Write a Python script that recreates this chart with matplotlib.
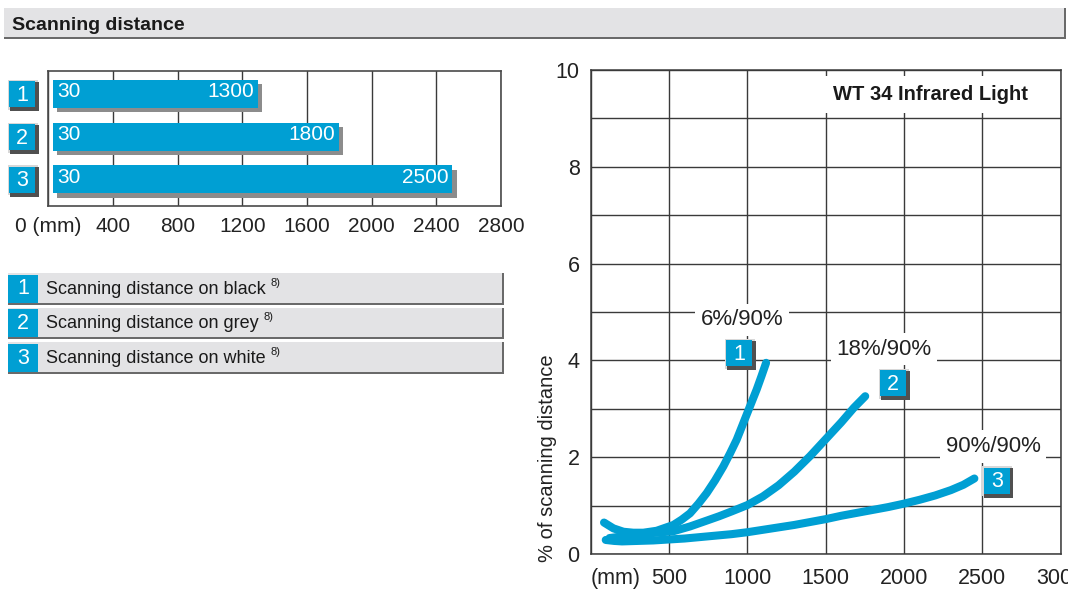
import matplotlib
matplotlib.use("Agg")
import matplotlib.pyplot as plt
from matplotlib.patches import Rectangle
import matplotlib.patheffects as pe

plt.rcParams['font.family'] = ['Liberation Sans', 'DejaVu Sans']

# ---------------- data ----------------
title = "Scanning distance"
bar_ids = ["1", "2", "3"]
bar_start = [30, 30, 30]
bar_end = [1300, 1800, 2500]
bar_ticks = [0, 400, 800, 1200, 1600, 2000, 2400, 2800]
bar_ticklabels = ["0 (mm)", "400", "800", "1200", "1600", "2000", "2400", "2800"]

legend_labels = ["Scanning distance on black",
                 "Scanning distance on grey",
                 "Scanning distance on white"]
footnote = "8)"

chart_title = "WT 34 Infrared Light"
y_label = "% of scanning distance"
x_ticks = [0, 500, 1000, 1500, 2000, 2500, 3000]
x_ticklabels = ["(mm)", "500", "1000", "1500", "2000", "2500", "3000"]
y_ticks = [0, 2, 4, 6, 8, 10]

curve_labels = ["6%/90%", "18%/90%", "90%/90%"]
c1_x = [85, 145, 209, 272, 336, 421, 528, 581, 634, 688, 741, 794, 847, 890, 932, 964,
        996, 1028, 1060, 1090, 1120]
c1_y = [0.65, 0.53, 0.46, 0.44, 0.44, 0.48, 0.60, 0.71, 0.84, 1.04, 1.26, 1.52, 1.81, 2.08,
        2.36, 2.62, 2.88, 3.14, 3.40, 3.67, 3.95]
c2_x = [120, 220, 320, 420, 528, 635, 741, 820, 900, 1000, 1100, 1200, 1300, 1400, 1500,
        1600, 1680, 1753]
c2_y = [0.33, 0.37, 0.41, 0.44, 0.47, 0.57, 0.69, 0.78, 0.88, 1.01, 1.19, 1.42, 1.70, 2.02,
        2.37, 2.72, 3.02, 3.26]
c3_x = [96, 150, 200, 300, 400, 500, 600, 700, 800, 900, 1000, 1100, 1200, 1300, 1400, 1500,
        1600, 1700, 1800, 1900, 2000, 2100, 2200, 2300, 2380, 2450]
c3_y = [0.29, 0.27, 0.26, 0.27, 0.28, 0.30, 0.32, 0.35, 0.38, 0.41, 0.45, 0.50, 0.55, 0.60,
        0.66, 0.72, 0.79, 0.85, 0.91, 0.97, 1.04, 1.12, 1.21, 1.32, 1.43, 1.56]

# ---------------- style ----------------
W, H = 1068, 595
BLUE = "#009fd3"
GRID = "#3a3a3a"
TXT = "#222222"
PANEL = "#e3e3e5"
SHADOW = "#6a6a6a"

fig = plt.figure(figsize=(W / 100, H / 100), dpi=100)
fig.patch.set_facecolor("white")


def fx(x):
    return x / W


def fy(y):
    return 1 - y / H


# overlay for decorations (pixel coords, y downwards)
ov = fig.add_axes([0, 0, 1, 1], zorder=10)
ov.set_xlim(0, W)
ov.set_ylim(H, 0)
ov.axis("off")


def badge(x0, y0, text, size=30):
    ov.add_patch(Rectangle((x0, y0), size, size, fc="#d8d8d8", ec="none"))
    ov.add_patch(Rectangle((x0 + 2, y0 + 2), size - 1, size - 0.5, fc="#505050", ec="none"))
    ov.add_patch(Rectangle((x0 + 1.5, y0 + 1.5), size - 4, size - 4, fc=BLUE, ec="none"))
    ov.text(x0 + 1.5 + (size - 4) / 2, y0 + 1.5 + (size - 4) / 2 + 1, text, color="white",
            fontsize=15.5, ha="center", va="center")


# header bar
ov.add_patch(Rectangle((4, 8.3), 1062, 31, fc=SHADOW, ec="none"))
ov.add_patch(Rectangle((4, 8.3), 1060, 28.5, fc=PANEL, ec="none"))
ov.text(11.5, 30, title, fontsize=14, fontweight="bold", color="#1a1a1a", va="baseline", ha="left")

# ---------------- left bar chart ----------------
axL = fig.add_axes([fx(48.2), fy(206), fx(501) - fx(48.2), fy(70.6) - fy(206)])
ypos = list(range(len(bar_ids)))
axL.barh(ypos, [e - s for s, e in zip(bar_start, bar_end)], left=bar_start, height=0.655,
         color=BLUE, zorder=3,
         path_effects=[pe.SimplePatchShadow(offset=(2.9, -2.9), shadow_rgbFace="#8c8c8c", alpha=1),
                       pe.Normal()])
for i, (s, e) in enumerate(zip(bar_start, bar_end)):
    axL.annotate(str(s), xy=(s, i), xytext=(4, 2), textcoords="offset pixels", ha="left",
                 va="center", color="white", fontsize=15, zorder=4)
    axL.annotate(str(e), xy=(e, i), xytext=(-4, 2), textcoords="offset pixels", ha="right",
                 va="center", color="white", fontsize=15, zorder=4)
axL.set_xlim(bar_ticks[0], bar_ticks[-1])
axL.set_ylim(2.62, -0.547)
axL.set_yticks([])
axL.set_xticks(bar_ticks)
axL.set_xticklabels(bar_ticklabels)
axL.grid(axis="x", color=GRID, lw=1.0)
axL.set_axisbelow(True)
axL.tick_params(axis="x", length=0, pad=8, labelsize=15, labelcolor=TXT)
for sp in axL.spines.values():
    sp.set_color("#4a4a4a")
    sp.set_linewidth(1.2)

# badges beside bars
for i, b in enumerate(bar_ids):
    d = axL.transData.transform((0, i))
    yc = H - d[1]
    badge(7.6, yc - 14, b)

# legend rows
row_tops = [273, 307.5, 342]
for b, lab, top in zip(bar_ids, legend_labels, row_tops):
    ov.add_patch(Rectangle((8, top), 496, 31.5, fc=SHADOW, ec="none"))
    ov.add_patch(Rectangle((8, top), 494, 29.5, fc=PANEL, ec="none"))
    ov.add_patch(Rectangle((8, top + 1.5), 30, 28, fc=BLUE, ec="none"))
    ov.text(23, top + 16, b, color="white", fontsize=15.5, ha="center", va="center")
    t = ov.text(46, top + 21, lab, color="#1a1a1a", fontsize=13, ha="left", va="baseline")
    fig.canvas.draw()
    bb = t.get_window_extent()
    ov.text(bb.x1 + 5, top + 13, footnote, color="#1a1a1a", fontsize=8, ha="left", va="baseline")

# ---------------- right line chart ----------------
axR = fig.add_axes([fx(590.7), fy(554), fx(1060.5) - fx(590.7), fy(70) - fy(554)])
for xs, ys in ((c3_x, c3_y), (c2_x, c2_y), (c1_x, c1_y)):
    axR.plot(xs, ys, color=BLUE, lw=5.8, solid_capstyle="round", solid_joinstyle="round", zorder=3)
axR.set_xlim(x_ticks[0], x_ticks[-1])
axR.set_ylim(y_ticks[0], y_ticks[-1])
axR.set_xticks(x_ticks)
axR.set_xticklabels(x_ticklabels)
axR.set_yticks(y_ticks)
axR.set_yticks(range(1, 10, 2), minor=True)
axR.grid(which="both", color=GRID, lw=1.0)
axR.set_axisbelow(True)
axR.tick_params(which="both", length=0, labelsize=15.5, labelcolor=TXT)
axR.tick_params(axis="x", pad=10)
axR.tick_params(axis="y", pad=8)
axR.get_xticklabels()[0].set_horizontalalignment("left")
for sp in axR.spines.values():
    sp.set_color("#3a3a3a")
    sp.set_linewidth(1.1)
axR.set_ylabel(y_label, fontsize=14.5, color=TXT)
axR.yaxis.set_label_coords(-0.072, 0.198)

axR.text(0.723, 0.949, chart_title, transform=axR.transAxes, ha="center", va="center",
         fontsize=14.5, fontweight="bold", color="#1a1a1a", zorder=5,
         bbox=dict(boxstyle="square,pad=0.45", fc="white", ec="none"))

label_off = [(-24, 43), (19, 47), (19, 32)]
badge_off = [(-26.5, -9), (28.5, -12.5), (23, 3)]
for (xs, ys), lab, b, lo, bo in zip(((c1_x, c1_y), (c2_x, c2_y), (c3_x, c3_y)), curve_labels,
                                    bar_ids, label_off, badge_off):
    axR.annotate(lab, xy=(xs[-1], ys[-1]), xytext=lo, textcoords="offset pixels",
                 ha="center", va="center", fontsize=16, color=TXT, zorder=5,
                 bbox=dict(boxstyle="square,pad=0.25", fc="white", ec="none"))
    d = axR.transData.transform((xs[-1], ys[-1]))
    cx, cy = d[0] + bo[0], H - d[1] + bo[1]
    badge(cx - 15, cy - 15, b)

fig.savefig("out.png", dpi=100)
